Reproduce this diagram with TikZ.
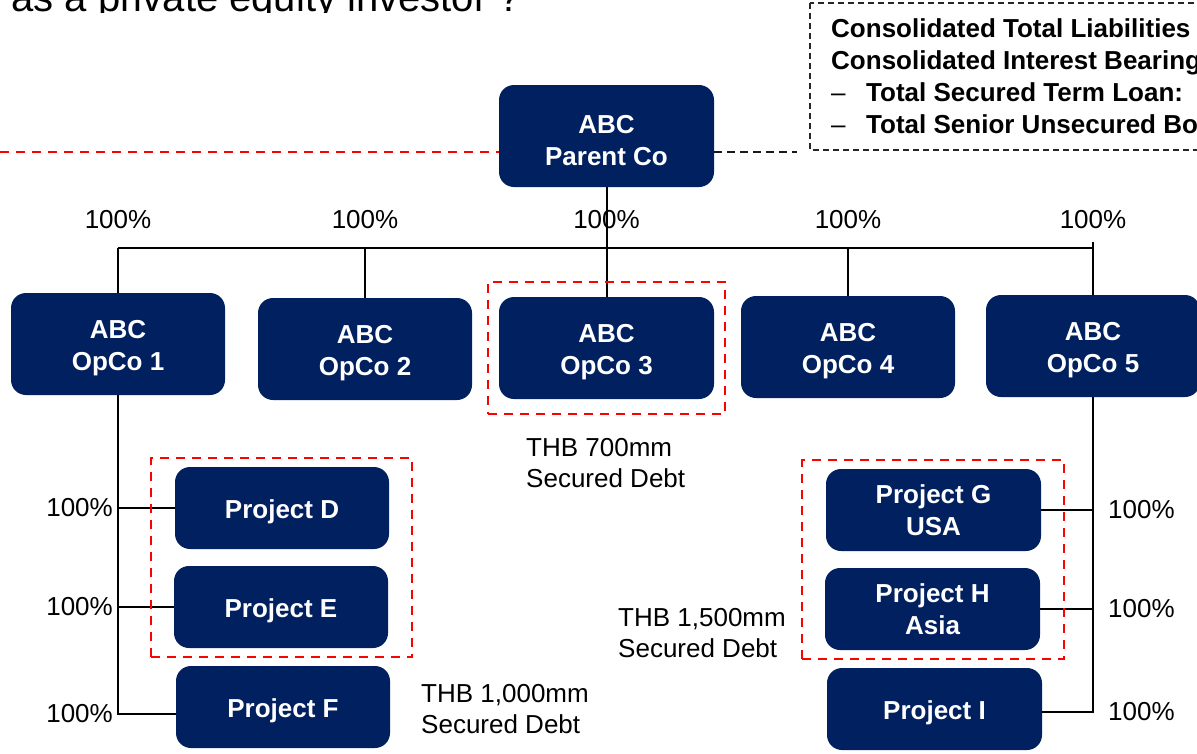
\documentclass[tikz,border=0pt]{standalone}
\usepackage{fontspec}
\setmainfont{Liberation Sans}
\usetikzlibrary{fit,calc}
\definecolor{navy}{HTML}{002060}
\definecolor{rdash}{HTML}{FF0000}
% taller first line so the box text sits a little lower
\newcommand{\hilinestrut}{\rule{0pt}{27pt}}
\newcommand{\lolinestrut}{\rule{0pt}{25.5pt}}
\tikzset{
  entity/.style={fill=navy, rounded corners=15pt, text=white,
    font=\bfseries\fontsize{26}{32}\selectfont, align=center,
    inner sep=0pt, minimum width=215pt, minimum height=102pt},
  project/.style={entity, minimum height=82pt},
  pct/.style={font=\fontsize{26}{31}\selectfont, inner sep=0pt},
  debt/.style={font=\fontsize{26}{31.5}\selectfont, inner sep=0pt, align=left, anchor=west},
  link/.style={line width=2pt, black},
  redbox/.style={draw=rdash, line width=2.2pt, dash pattern=on 9pt off 7pt, inner ysep=9pt},
  notebox/.style={draw=black!85, line width=1.4pt, dash pattern=on 6pt off 4pt},
}
\begin{document}
\begin{tikzpicture}[x=1pt, y=-1pt]
\useasboundingbox (0,0) rectangle (1197,753);
\clip (0,0) rectangle (1197,753);

% heading line, only its lower part lies inside the frame
\begin{scope}
  \clip (0,0) rectangle (540,12.5);
  \node[anchor=base east, inner sep=0pt, font=\fontsize{40}{48}\selectfont] (heading) at (521,11) {as a private equity investor ?};
\end{scope}

% group entities
\node[entity] (parent) at (606.5,136) {\hilinestrut ABC\\Parent Co};
\node[entity, minimum width=214pt] (op1) at (118,344) {\hilinestrut ABC\\OpCo 1};
\node[entity, minimum width=214pt] (op2) at (365,349) {\hilinestrut ABC\\OpCo 2};
\node[entity] (op3) at (606.5,348) {\hilinestrut ABC\\OpCo 3};
\node[entity, minimum width=214pt] (op4) at (848,347) {\hilinestrut ABC\\OpCo 4};
\node[entity, minimum width=214pt] (op5) at (1093,346) {\hilinestrut ABC\\OpCo 5};

\node[project, minimum width=214pt] (pD) at (282,508) {\lolinestrut Project D};
\node[project, minimum width=214pt] (pE) at (281,607) {\lolinestrut Project E};
\node[project, minimum width=214pt] (pF) at (283,707) {\lolinestrut Project F};
\node[project] (pG) at (933.5,510) {Project G\\USA};
\node[project] (pH) at (932.5,609) {Project H\\Asia};
\node[project] (pI) at (934.5,709) {\lolinestrut Project I};

% dashed links to the left and to the note box
\coordinate (lnL) at (0,152);
\coordinate (lnR) at (797,152);
\draw[rdash, line width=2.2pt, dash pattern=on 9pt off 7pt] (lnL) -- (lnL -| parent.west);
\draw[black!90, line width=2.2pt, dash pattern=on 8pt off 5pt] (lnR -| parent.east) -- (lnR);

% note box with consolidated figures
\draw[notebox] (810,3) rectangle (1215,150);
\node[anchor=north west, inner sep=0pt, align=left,
      font=\bfseries\fontsize{26}{32}\selectfont] (note) at (831,18)
  {Consolidated Total Liabilities\\
   Consolidated Interest Bearing\\
   \makebox[35pt][l]{\mdseries –}Total Secured Term Loan:\\
   \makebox[35pt][l]{\mdseries –}Total Senior Unsecured Bonds};

% ownership percentages above the bus
\coordinate (busL) at (118,248);
\coordinate (busR) at (1093,248);
\coordinate (tick) at (1093,242);
\foreach \n in {op1,op2,op3,op4,op5}
  \path (\n.north |- busL) ++(0,-28) node[pct] {100\%};

% bus and drops
\draw[link] (busL) -- (busR);
\draw[link] (parent.south) -- (op3.north);
\draw[link] (op1.north) -- (op1.north |- busL);
\draw[link] (op2.north) -- (op2.north |- busL);
\draw[link] (op4.north) -- (op4.north |- busL);
\draw[link] (op5.north) -- (op5.north |- tick);

% left branch: OpCo 1 projects
\coordinate (fJoin) at ([yshift=-7pt]pF.west);
\draw[link] (op1.south) |- (fJoin);
\draw[link] (pD.west) -- (pD.west -| op1.south);
\draw[link] (pE.west) -- (pE.west -| op1.south);
\foreach \p in {pD.west,pE.west,fJoin}
  \path (\p -| op1.south) node[pct, anchor=east, xshift=-5pt] {100\%};

% right branch: OpCo 5 projects
\coordinate (iJoin) at ([yshift=-3pt]pI.east);
\draw[link] (op5.south) |- (iJoin);
\draw[link] (pG.east) -- (pG.east -| op5.south);
\draw[link] (pH.east) -- (pH.east -| op5.south);
\foreach \p in {pG.east,pH.east,iJoin}
  \path (\p -| op5.south) node[pct, anchor=west, xshift=15pt] {100\%};

% secured debt groups
\node[redbox, fit=(op3), inner xsep=11pt, inner ysep=14.5pt] (grp3) {};
\node[redbox, fit=(pD)(pE), inner xsep=23pt] (grpDE) {};
\node[redbox, fit=(pG)(pH), inner xsep=22.5pt] (grpGH) {};

\node[debt] (debt3) at (526,463) {THB 700mm\\Secured Debt};
\node[debt] (debtF) at (421,709) {THB 1,000mm\\Secured Debt};
\node[debt] (debtGH) at (618,633) {THB 1,500mm\\Secured Debt};
\end{tikzpicture}
\end{document}
